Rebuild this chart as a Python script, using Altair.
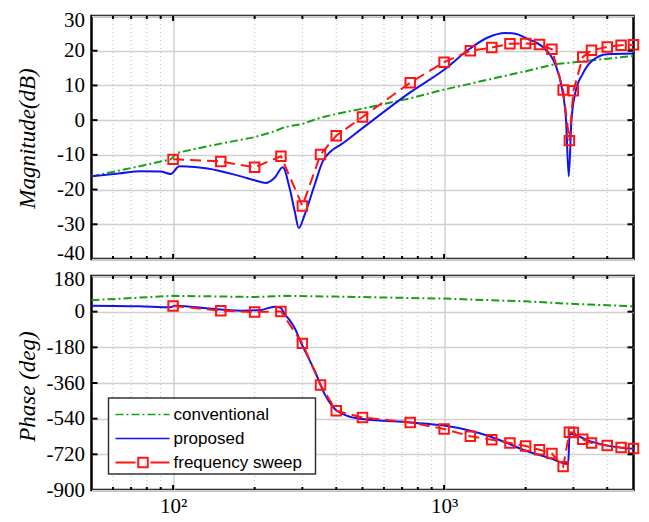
import altair as alt
import pandas as pd

SERIF = "Liberation Serif"
SANS = "Liberation Sans"

# ---------------- axis / grid values ----------------
minor_freqs = [60, 70, 80, 90, 200, 300, 400, 500, 600, 700, 800, 900, 2000, 3000, 4000]
major_freqs = [100, 1000]
mag_ticks = [30, 20, 10, 0, -10, -20, -30, -40]
phase_ticks = [180, 0, -180, -360, -540, -720, -900]

series_names = ["conventional", "proposed", "frequency sweep"]
series_colors = ["#16a016", "#1212f0", "#ff1414"]

# ---------------- magnitude data ----------------
conv_mag_f = [50, 76, 98, 104, 134, 200, 237, 258, 300, 350, 400, 500, 760, 1000, 2000, 2560, 5000]
conv_mag = [-16.2, -13.2, -11.3, -9.4, -7.5, -4.9, -3.2, -2.0, -1.1, 0.7, 1.8, 3.3, 6.4, 8.8, 14.1, 16.1, 18.5]

prop_mag_f = [50, 63, 76, 90, 98, 105.5, 120, 134, 178, 200, 220, 237, 254, 269, 281, 291, 306, 333,
              357, 383, 417, 500, 750, 1000, 1250, 1450, 1680, 1850, 2000, 2300, 2570, 2720, 2820,
              2884, 2950, 3050, 3240, 3500, 4000, 5000]
prop_mag = [-16.2, -15.4, -14.7, -14.8, -15.5, -13.3, -13.5, -13.9, -16.2, -17.3, -18.1, -16.6, -13.6,
            -19.5, -26.2, -31.1, -27.2, -18.6, -11.8, -8.9, -7.0, -2.3, 8.0, 14.5, 20.7, 23.8, 25.1,
            24.8, 23.6, 21.2, 16.1, 9.3, -0.3, -16.2, -0.3, 7.9, 13.2, 17.0, 19.0, 19.2]

sweep_f = [100, 150, 200, 250, 300, 350, 400, 500, 750, 1000, 1250, 1500, 1750, 2000, 2250, 2500,
           2750, 2900, 3000, 3250, 3500, 4000, 4500, 5000]
sweep_mag = [-11.3, -11.9, -13.6, -10.4, -24.7, -9.9, -4.5, 0.9, 10.8, 16.7, 20.0, 20.9, 22.0, 22.1,
             21.8, 20.4, 8.7, -5.9, 8.5, 18.2, 20.1, 21.1, 21.6, 21.7]

# ---------------- phase data ----------------
conv_ph_f = [50, 100, 200, 260, 400, 1000, 2000, 2900, 5000]
conv_ph = [58, 80, 74, 80, 76, 66, 52, 40, 27]

prop_ph_f = [50, 75, 98, 101, 130, 178, 210, 237, 250, 258, 270, 280, 298, 315, 333, 362, 390, 437,
             500, 750, 1000, 1250, 1450, 1720, 2000, 2500, 2690, 2870, 2905, 2950, 3400, 4000, 5000]
prop_ph = [30, 27, 22, 30, 18, 5, 8, 25, 18, -12, -45, -79, -163, -230, -298, -415, -483, -525,
           -542, -559, -575, -601, -626, -665, -702, -743, -760, -770, -618, -617, -651, -676, -692]

sweep_ph = [29, 5, -2, 1, -160, -370, -500, -534, -559, -592, -629, -646, -663, -678, -697, -716,
            -782, -609, -610, -644, -663, -676, -686, -690]

W, H1, H2 = 542, 243, 214


def df(f, v):
    return pd.DataFrame({"f": f, "v": v})


def make_panel(height, y_domain, y_ticks, title, title_y, label_offset_expr,
               conv, prop, sweep, show_x_labels, legend):
    xs = alt.Scale(type="log", domain=[50, 5000], nice=False)
    ys = alt.Scale(domain=y_domain, nice=False, zero=False)
    xax = alt.Axis(values=major_freqs, grid=True, gridColor="#d0d0d0", gridWidth=1.5, ticks=False,
                   domain=False, labels=show_x_labels,
                   labelExpr="datum.value == 100 ? '10²' : '10³'", labelFont=SERIF, labelFontSize=21,
                   labelPadding=5, labelColor="black")
    yax = alt.Axis(values=y_ticks, grid=True, gridColor="#d0d0d0", gridWidth=1.5, ticks=False,
                   domain=False, labelFont=SERIF, labelFontSize=21, labelPadding=7, labelColor="black",
                   labelOverlap=False,
                   labelOffset=alt.ExprRef(label_offset_expr),
                   labelExpr="datum.value < 0 ? '-' + abs(datum.value) : '' + datum.value",
                   title=title, titleFont=SERIF, titleFontSize=23, titleFontStyle="italic",
                   titleFontWeight="normal", titleColor="black", titleX=-64, titleY=title_y,
                   titleAlign="center", titleBaseline="middle", titleAngle=270)

    def X():
        return alt.X("f:Q", scale=xs, axis=xax, title=None)

    def Y():
        return alt.Y("v:Q", scale=ys, axis=yax)

    layers = []
    layers.append(alt.Chart(pd.DataFrame({"f": minor_freqs})).mark_rule(
        color="#bdbdbd", strokeDash=[1, 3], strokeWidth=1).encode(x=X()))
    layers.append(alt.Chart(conv).mark_line(color=series_colors[0], strokeWidth=2,
                                            strokeDash=[8, 3, 2, 3]).encode(x=X(), y=Y()))
    layers.append(alt.Chart(prop).mark_line(color=series_colors[1], strokeWidth=2,
                                            interpolate="monotone").encode(x=X(), y=Y()))
    layers.append(alt.Chart(sweep).mark_line(color=series_colors[2], strokeWidth=2,
                                             strokeDash=[11, 6]).encode(x=X(), y=Y()))
    layers.append(alt.Chart(sweep).mark_point(shape="square", filled=False, size=90, strokeWidth=2,
                                              color=series_colors[2], opacity=1).encode(x=X(), y=Y()))

    # inward frame ticks
    inner_y = pd.DataFrame({"v": y_ticks[1:-1]})
    layers.append(alt.Chart(inner_y).mark_rule(color="black", strokeWidth=2).encode(
        y=Y(), x=alt.value(0), x2=alt.value(6)))
    layers.append(alt.Chart(inner_y).mark_rule(color="black", strokeWidth=2).encode(
        y=Y(), x=alt.value(W - 6), x2=alt.value(W)))
    minor_df = pd.DataFrame({"f": minor_freqs})
    major_df = pd.DataFrame({"f": major_freqs})
    for d, ln in ((minor_df, 3), (major_df, 5)):
        layers.append(alt.Chart(d).mark_rule(color="black", strokeWidth=2).encode(
            x=X(), y=alt.value(0), y2=alt.value(ln)))
        layers.append(alt.Chart(d).mark_rule(color="black", strokeWidth=2).encode(
            x=X(), y=alt.value(height - ln), y2=alt.value(height)))

    if legend:
        one = pd.DataFrame({"k": [0]})
        layers.append(alt.Chart(one).mark_rect(fill="white", stroke="#333333", strokeWidth=1.5).encode(
            x=alt.value(17), x2=alt.value(224), y=alt.value(122), y2=alt.value(198)))
        rows_y = [138.5, 162.5, 186.5]
        # conventional sample
        layers.append(alt.Chart(one).mark_rule(color=series_colors[0], strokeWidth=1.3,
                                               strokeDash=[8, 3, 2, 3]).encode(
            x=alt.value(24), x2=alt.value(78), y=alt.value(rows_y[0])))
        # proposed sample
        layers.append(alt.Chart(one).mark_rule(color=series_colors[1], strokeWidth=1.3).encode(
            x=alt.value(24), x2=alt.value(78), y=alt.value(rows_y[1])))
        # frequency sweep sample
        layers.append(alt.Chart(one).mark_rule(color=series_colors[2], strokeWidth=2).encode(
            x=alt.value(24), x2=alt.value(44), y=alt.value(rows_y[2])))
        layers.append(alt.Chart(one).mark_rule(color=series_colors[2], strokeWidth=2).encode(
            x=alt.value(59), x2=alt.value(78), y=alt.value(rows_y[2])))
        layers.append(alt.Chart(one).mark_point(shape="square", filled=False, size=90, strokeWidth=2,
                                                color=series_colors[2], opacity=1).encode(
            x=alt.value(51.5), y=alt.value(rows_y[2])))
        for name, yy in zip(series_names, rows_y):
            layers.append(alt.Chart(pd.DataFrame({"t": [name]})).mark_text(
                font=SANS, fontSize=17, color="black", align="left", baseline="middle").encode(
                x=alt.value(82), y=alt.value(yy), text="t:N"))

    return alt.layer(*layers).properties(width=W, height=height)


top = make_panel(H1, [-40, 30], mag_ticks, "Magnitude(dB)", 122,
                 "datum.value == 30 ? 4 : (datum.value == -40 ? -6 : 0)",
                 df(conv_mag_f, conv_mag), df(prop_mag_f, prop_mag), df(sweep_f, sweep_mag),
                 False, False)
bottom = make_panel(H2, [-900, 180], phase_ticks, "Phase (deg)", 110,
                    "datum.value == 180 ? 3 : 0",
                    df(conv_ph_f, conv_ph), df(prop_ph_f, prop_ph), df(sweep_f, sweep_ph),
                    True, True)

chart = alt.vconcat(top, bottom, spacing=1).properties(
    padding={"left": 14.5, "top": 7, "right": 5, "bottom": 0},
    background="white",
).configure_view(stroke="black", strokeWidth=2.5)

chart.save("out.html", embed_options={"renderer": "svg", "actions": False})
